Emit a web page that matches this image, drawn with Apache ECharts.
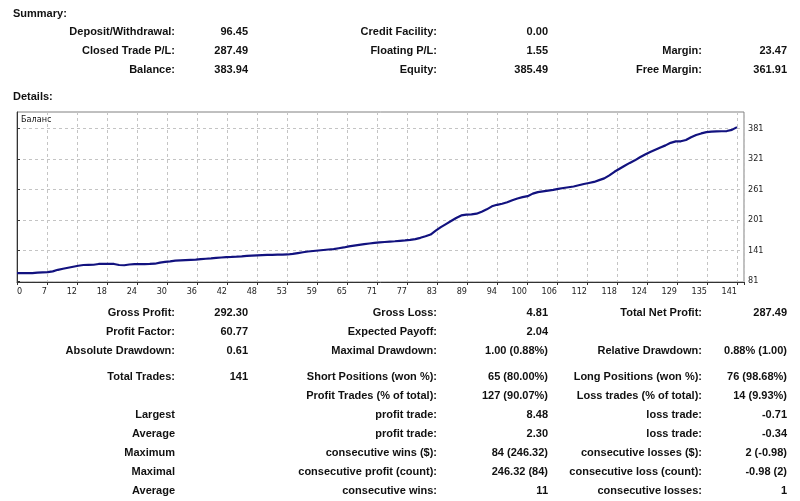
<!DOCTYPE html>
<html>
<head>
<meta charset="utf-8">
<title>Balance</title>
<script src="https://cdn.jsdelivr.net/npm/echarts@6.0.0/dist/echarts.min.js"></script>
<style>
html, body { margin: 0; padding: 0; background: #fff; }
#chart { width: 800px; height: 501px; }
</style>
</head>
<body>
<div id="chart"></div>
<script>
// balance after each closed trade (index 0 = deposit)
var balance = [
  96.45, 96.45, 96.45, 96.45, 97.5, 98, 98.4, 100, 103, 105,
  107, 109, 111, 112.5, 112.8, 113, 114.5, 114.7, 114.7, 114.5,
  112.5, 112, 113.5, 114, 114, 114.2, 114.5, 115, 117, 118.5,
  119.5, 121, 121.5, 122, 122.5, 123, 124, 124.8, 125.5, 126.5,
  127.2, 127.9, 128.3, 128.8, 129.5, 130.3, 131, 131.6, 132, 132.3,
  132.6, 132.8, 133, 133.2, 134.5, 136, 137.5, 139, 140, 141,
  142, 143, 143.8, 145.5, 147, 149, 150.5, 152, 153.5, 154.8,
  156, 157, 157.8, 158.5, 159.2, 160, 160.8, 161.9, 163.5, 166,
  169, 172.5, 180, 187, 193, 199, 205, 210, 211.5, 212,
  213.5, 217.5, 222, 228, 231, 233, 236, 240, 243.5, 246,
  248, 253, 256, 257.5, 258.8, 260.5, 262.5, 264, 265.5, 267,
  269.5, 272, 274, 276, 279.5, 283, 289, 296, 302, 308,
  313.5, 318.5, 324.5, 330, 335, 339.5, 344, 348, 353, 355.8,
  356, 358.5, 364, 368.5, 371.5, 374, 375, 375.5, 375.8, 376.2,
  378.5, 383.94
];
var xTickLabels = [0, 7, 12, 18, 24, 30, 36, 42, 48, 53, 59, 65, 71, 77, 83, 89, 94, 100, 106, 112, 118, 124, 129, 135, 141];
var yTickValues = [81, 141, 201, 261, 321, 381];
var seriesName = "Баланс";

var summaryRows = [
  ["Deposit/Withdrawal:", "96.45", "Credit Facility:", "0.00", "", ""],
  ["Closed Trade P/L:", "287.49", "Floating P/L:", "1.55", "Margin:", "23.47"],
  ["Balance:", "383.94", "Equity:", "385.49", "Free Margin:", "361.91"]
];
var detailRows = [
  ["Gross Profit:", "292.30", "Gross Loss:", "4.81", "Total Net Profit:", "287.49"],
  ["Profit Factor:", "60.77", "Expected Payoff:", "2.04", "", ""],
  ["Absolute Drawdown:", "0.61", "Maximal Drawdown:", "1.00 (0.88%)", "Relative Drawdown:", "0.88% (1.00)"],
  ["Total Trades:", "141", "Short Positions (won %):", "65 (80.00%)", "Long Positions (won %):", "76 (98.68%)"],
  ["", "", "Profit Trades (% of total):", "127 (90.07%)", "Loss trades (% of total):", "14 (9.93%)"],
  ["Largest", "", "profit trade:", "8.48", "loss trade:", "-0.71"],
  ["Average", "", "profit trade:", "2.30", "loss trade:", "-0.34"],
  ["Maximum", "", "consecutive wins ($):", "84 (246.32)", "consecutive losses ($):", "2 (-0.98)"],
  ["Maximal", "", "consecutive profit (count):", "246.32 (84)", "consecutive loss (count):", "-0.98 (2)"],
  ["Average", "", "consecutive wins:", "11", "consecutive losses:", "1"]
];

// layout
var colRight = [175, 248, 437, 548, 702, 787];
var summaryY = [32, 51, 70];
var detailY = [313, 332, 351, 377, 396, 415, 434, 453, 472, 491];
var tableFont = "bold 11px 'Liberation Sans', Arial, sans-serif";
var smallFont = "'Liberation Sans Narrow', 'DejaVu Sans Condensed', 'Liberation Sans', sans-serif";
var xStep = (xTickLabels.length > 1) ? xTickLabels[xTickLabels.length - 1] / (xTickLabels.length - 1) : 1;

var texts = [];
function addText(str, x, y, align, font) {
  if (!str) return;
  texts.push({
    type: "text", x: x, y: y, silent: true,
    style: { text: str, align: align, verticalAlign: "middle", font: font, fill: "#111" }
  });
}
function addRows(rows, ys) {
  rows.forEach(function (row, r) {
    row.forEach(function (cell, c) { addText(cell, colRight[c], ys[r], "right", tableFont); });
  });
}
addText("Summary:", 13, 14, "left", tableFont);
addText("Details:", 13, 97, "left", tableFont);
addRows(summaryRows, summaryY);
addRows(detailRows, detailY);
addText(seriesName, 21, 120, "left", "9px " + smallFont);

var chart = echarts.init(document.getElementById("chart"));
chart.setOption({
  backgroundColor: "#fff",
  animation: false,
  grid: { left: 17, top: 112, width: 727, height: 170, show: true, borderColor: "#808080", borderWidth: 1 },
  xAxis: {
    type: "value", min: 0, max: 142.37, interval: xStep,
    axisLine: { onZero: false, lineStyle: { color: "#333", width: 1 } },
    axisTick: { show: true, length: 3, lineStyle: { color: "#333" } },
    axisLabel: {
      color: "#222", fontSize: 9, fontFamily: smallFont, margin: 5,
      align: "right", alignMinLabel: "left",
      showMinLabel: true, showMaxLabel: true,
      formatter: function (v) {
        var k = Math.round(v / xStep);
        if (Math.abs(v - k * xStep) > 1e-6 || k >= xTickLabels.length) return "";
        return String(xTickLabels[k]);
      }
    },
    splitLine: { show: true, lineStyle: { color: "#c4c4c4", type: [3, 3], width: 1 } }
  },
  yAxis: {
    type: "value", position: "right", min: 79, max: 413.7,
    axisLine: { show: true, lineStyle: { color: "#333", width: 1 } },
    axisTick: { show: true, length: 3, customValues: yTickValues, lineStyle: { color: "#333" } },
    axisLabel: { color: "#222", fontSize: 9, fontFamily: smallFont, margin: 4, customValues: yTickValues },
    splitLine: { show: true, lineStyle: { color: "#c4c4c4", type: [3, 3], width: 1 } }
  },
  series: [{
    name: seriesName,
    type: "line",
    data: balance.map(function (v, i) { return [i, v]; }),
    showSymbol: false,
    lineStyle: { color: "#12127f", width: 2.2 },
    z: 5
  }],
  graphic: texts
});
</script>
</body>
</html>
